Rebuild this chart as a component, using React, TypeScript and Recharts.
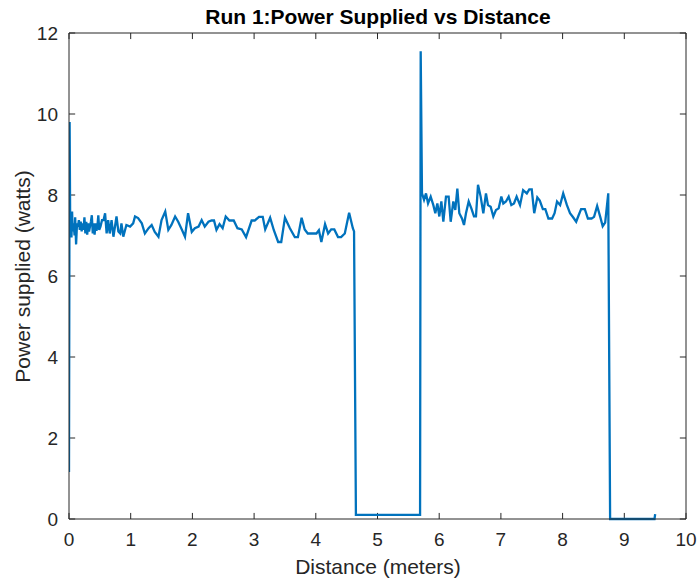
import { LineChart, Line, XAxis, YAxis, ReferenceLine } from "recharts";

// Distance (m) and power supplied (W)
const distance = [
  0, 0.01, 0.02, 0.03, 0.04, 0.05, 0.06, 0.075, 0.09, 0.1, 0.115, 0.13, 0.145, 0.16, 0.175, 0.19,
  0.205, 0.22, 0.235, 0.25, 0.265, 0.28, 0.295, 0.31, 0.325, 0.34, 0.355, 0.37, 0.385, 0.4, 0.415,
  0.43, 0.445, 0.46, 0.475, 0.49, 0.51, 0.535, 0.56, 0.585, 0.61, 0.635, 0.66, 0.69, 0.72, 0.77,
  0.8, 0.83, 0.85, 0.88, 0.93, 0.99, 1.04, 1.07, 1.12, 1.18, 1.23, 1.29, 1.34, 1.39, 1.45, 1.5,
  1.56, 1.61, 1.66, 1.72, 1.77, 1.83, 1.88, 1.93, 1.99, 2.04, 2.1, 2.15, 2.2, 2.26, 2.31, 2.35,
  2.39, 2.44, 2.49, 2.54, 2.6, 2.67, 2.73, 2.8, 2.87, 2.96, 3.01, 3.08, 3.14, 3.18, 3.26, 3.32,
  3.39, 3.44, 3.5, 3.58, 3.66, 3.71, 3.77, 3.82, 3.87, 3.95, 4.01, 4.05, 4.09, 4.15, 4.2, 4.25,
  4.3, 4.36, 4.41, 4.47, 4.54, 4.6, 4.62, 4.65, 5.69, 5.7, 5.721, 5.754, 5.786, 5.819, 5.862,
  5.905, 5.937, 5.97, 6.002, 6.035, 6.067, 6.11, 6.153, 6.186, 6.229, 6.261, 6.294, 6.326, 6.369,
  6.402, 6.434, 6.478, 6.521, 6.564, 6.596, 6.629, 6.672, 6.715, 6.758, 6.791, 6.834, 6.877,
  6.92, 6.964, 7.007, 7.039, 7.082, 7.126, 7.169, 7.212, 7.255, 7.31, 7.36, 7.42, 7.46, 7.5,
  7.54, 7.59, 7.63, 7.68, 7.72, 7.77, 7.83, 7.87, 7.91, 7.96, 8.01, 8.07, 8.12, 8.17, 8.22, 8.26,
  8.3, 8.36, 8.41, 8.47, 8.51, 8.56, 8.61, 8.65, 8.69, 8.74, 8.77, 9.49, 9.5,
];

const power = [
  1.16, 9.8, 7.1, 7.38, 6.95, 7.59, 7.1, 7.3, 7.0, 7.45, 6.78, 7.3, 7.22, 7.38, 7.14, 7.34, 7.1,
  7.3, 7.14, 7.45, 7.05, 7.34, 7.02, 7.3, 7.1, 7.22, 7.34, 7.5, 7.05, 7.3, 7.02, 7.3, 7.12, 7.22,
  7.5, 7.14, 7.22, 7.38, 7.38, 7.55, 7.05, 7.38, 7.05, 7.38, 6.97, 7.47, 7.1, 7.05, 7.3, 6.97,
  7.26, 7.22, 7.3, 7.47, 7.43, 7.3, 7.05, 7.18, 7.26, 7.09, 6.97, 7.38, 7.59, 7.14, 7.26, 7.47,
  7.34, 7.14, 6.97, 7.55, 7.09, 7.18, 7.22, 7.38, 7.22, 7.34, 7.37, 7.37, 7.14, 7.28, 7.18, 7.47,
  7.37, 7.37, 7.18, 7.15, 6.96, 7.37, 7.37, 7.46, 7.46, 7.15, 7.44, 7.13, 6.84, 6.84, 7.44, 7.18,
  6.96, 6.96, 7.44, 7.15, 7.05, 7.05, 7.05, 7.13, 6.84, 7.28, 7.05, 7.15, 7.15, 6.96, 6.96, 7.05,
  7.56, 7.18, 7.1, 0.1, 0.1, 11.55, 8.04, 7.88, 8.04, 7.79, 7.96, 7.75, 7.55, 7.79, 7.47, 7.84,
  7.34, 7.96, 7.96, 7.34, 7.84, 7.63, 8.16, 7.55, 7.42, 7.26, 7.55, 7.84, 7.67, 7.47, 7.47, 8.25,
  7.96, 7.55, 8.04, 7.75, 7.71, 7.47, 7.63, 7.67, 7.96, 7.79, 7.84, 7.96, 7.75, 7.79, 7.96, 7.75,
  8.12, 8.04, 8.14, 8.14, 7.55, 7.94, 7.86, 7.65, 7.65, 7.42, 7.42, 7.55, 7.84, 7.75, 8.04, 7.75,
  7.55, 7.45, 7.34, 7.5, 7.65, 7.65, 7.42, 7.42, 7.46, 7.73, 7.46, 7.23, 7.32, 8.04, 0, 0, 0.12,
];

const xTicks = [0, 1, 2, 3, 4, 5, 6, 7, 8, 9, 10];
const yTicks = [0, 2, 4, 6, 8, 10, 12];

const data = distance.map((d, i) => ({ d, p: power[i] }));

const AXIS = "#262626";
const FONT = "'Liberation Sans', Arial, sans-serif";
const X_MAX = 10;
const Y_MAX = 12;
// inward tick length (~6px) expressed in axis units
const X_TICK_LEN = 0.15; // along y for x ticks
const Y_TICK_LEN = 0.1; // along x for y ticks

const BottomTick = (props: any) => {
  const { x, y, payload } = props;
  return (
    <text x={x} y={y + 27} textAnchor="middle" fontSize={19} fill={AXIS} fontFamily={FONT}>
      {payload.value}
    </text>
  );
};

const LeftTick = (props: any) => {
  const { x, y, payload } = props;
  return (
    <text x={x - 11} y={y + 7} textAnchor="end" fontSize={19} fill={AXIS} fontFamily={FONT}>
      {payload.value}
    </text>
  );
};

const labelBase = {
  position: "absolute" as const,
  fontFamily: FONT,
  fontSize: 21,
  lineHeight: "21px",
  whiteSpace: "nowrap" as const,
  textAlign: "center" as const,
};

export default function App() {
  return (
    <div style={{ position: "absolute", left: 0, top: 0, width: 698, height: 579, background: "#fff" }}>
      <LineChart width={698} height={579} data={data} margin={{ top: 33, right: 12, bottom: 0, left: 0 }}>
        <XAxis
          dataKey="d"
          type="number"
          domain={[0, X_MAX]}
          ticks={xTicks}
          interval={0}
          allowDataOverflow
          height={60}
          tickSize={0}
          tickMargin={0}
          tick={<BottomTick />}
          tickLine={false}
          axisLine={{ stroke: AXIS }}
        />
        <YAxis
          type="number"
          domain={[0, Y_MAX]}
          ticks={yTicks}
          interval={0}
          width={69}
          tickSize={0}
          tickMargin={0}
          tick={<LeftTick />}
          tickLine={false}
          axisLine={{ stroke: AXIS }}
        />

        {/* box: top and right edges */}
        <ReferenceLine y={Y_MAX} stroke={AXIS} strokeWidth={1} ifOverflow="visible" />
        <ReferenceLine x={X_MAX} stroke={AXIS} strokeWidth={1} ifOverflow="visible" />

        {/* inward ticks on all four sides */}
        {xTicks.map((t) => (
          <ReferenceLine
            key={`xb${t}`}
            segment={[{ x: t, y: 0 }, { x: t, y: X_TICK_LEN }]}
            stroke={AXIS}
            strokeWidth={1}
            ifOverflow="visible"
          />
        ))}
        {xTicks.map((t) => (
          <ReferenceLine
            key={`xt${t}`}
            segment={[{ x: t, y: Y_MAX }, { x: t, y: Y_MAX - X_TICK_LEN }]}
            stroke={AXIS}
            strokeWidth={1}
            ifOverflow="visible"
          />
        ))}
        {yTicks.map((t) => (
          <ReferenceLine
            key={`yl${t}`}
            segment={[{ x: 0, y: t }, { x: Y_TICK_LEN, y: t }]}
            stroke={AXIS}
            strokeWidth={1}
            ifOverflow="visible"
          />
        ))}
        {yTicks.map((t) => (
          <ReferenceLine
            key={`yr${t}`}
            segment={[{ x: X_MAX, y: t }, { x: X_MAX - Y_TICK_LEN, y: t }]}
            stroke={AXIS}
            strokeWidth={1}
            ifOverflow="visible"
          />
        ))}

        <Line
          type="linear"
          dataKey="p"
          stroke="#0072BD"
          strokeWidth={2.3}
          dot={false}
          activeDot={false}
          isAnimationActive={false}
        />
      </LineChart>
      <div style={{ ...labelBase, left: 0, top: 6, width: 756, fontWeight: "bold", color: "#000" }}>
        Run 1:Power Supplied vs Distance
      </div>
      <div style={{ ...labelBase, left: 0, top: 556, width: 756, color: AXIS }}>Distance (meters)</div>
      <div
        style={{
          ...labelBase,
          left: -128,
          top: 265.5,
          width: 300,
          height: 21,
          color: AXIS,
          transform: "rotate(-90deg)",
        }}
      >
        Power supplied (watts)
      </div>
    </div>
  );
}
